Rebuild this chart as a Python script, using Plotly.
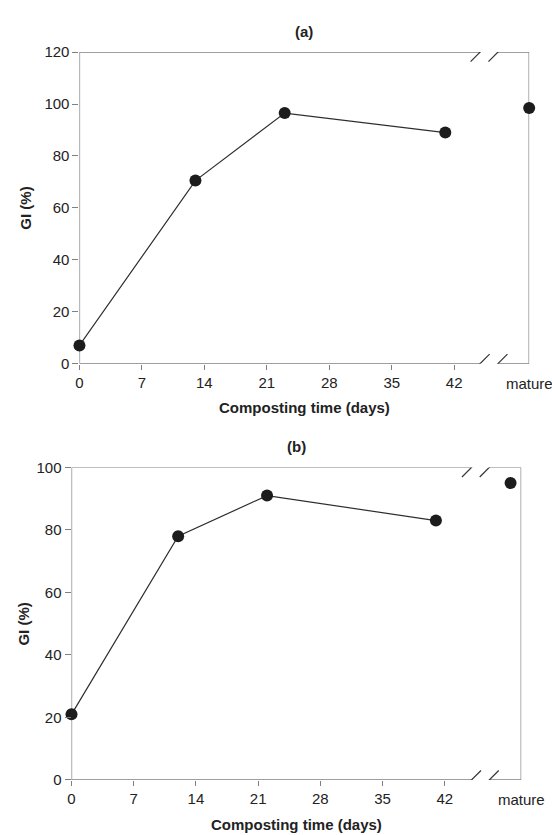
import plotly.graph_objects as go

# ---------------- data ----------------
days_a = [0, 13, 23, 41]
gi_a = [7, 70.5, 96.5, 89]
mature_a = [98.5]

days_b = [0, 12, 22, 41]
gi_b = [21, 78, 91, 83]
mature_b = [95]

x_ticks = [0, 7, 14, 21, 28, 35, 42]
y_ticks_a = [0, 20, 40, 60, 80, 100, 120]
y_ticks_b = [0, 20, 40, 60, 80, 100]

# ---------------- layout constants ----------------
W, H = 552, 835
FONT = "Liberation Sans, Arial, sans-serif"
AX = "#7f7f7f"
TXT = "#222222"

panels = [
    dict(xa="x", ya="y", l=76, r=529, t=44, b=362, xmax=50.4, ymax=120,
         mx=50.4, brk=(44.9, 46.9), title="(a)"),
    dict(xa="x2", ya="y2", l=68, r=521, t=468, b=787, xmax=50.6, ymax=100,
         mx=49.4, brk=(45.0, 47.0), title="(b)"),
]

fig = go.Figure()

series = [(days_a, gi_a, mature_a), (days_b, gi_b, mature_b)]
for p, (dx, dy, mat) in zip(panels, series):
    fig.add_trace(go.Scatter(x=dx, y=dy, mode="lines+markers", xaxis=p["xa"], yaxis=p["ya"],
                             line=dict(color="#2e2e2e", width=1.2),
                             marker=dict(size=12, color="#1c1c1c"),
                             cliponaxis=False, showlegend=False))
    fig.add_trace(go.Scatter(x=[p["mx"]], y=mat, mode="markers", xaxis=p["xa"], yaxis=p["ya"],
                             marker=dict(size=12, color="#1c1c1c"),
                             cliponaxis=False, showlegend=False))

shapes = []
annotations = []
layout_axes = {}
for i, p in enumerate(panels):
    xkey = "xaxis" if i == 0 else "xaxis2"
    ykey = "yaxis" if i == 0 else "yaxis2"
    layout_axes[xkey] = dict(
        domain=[p["l"] / W, p["r"] / W], range=[0, p["xmax"]],
        anchor=p["ya"], showgrid=False, zeroline=False, showline=False,
        tickmode="array", tickvals=x_ticks, ticks="outside", ticklen=5,
        tickcolor=AX, tickwidth=1,
        tickfont=dict(family=FONT, size=15, color=TXT),
    )
    layout_axes[ykey] = dict(
        domain=[1 - p["b"] / H, 1 - p["t"] / H], range=[0, p["ymax"]],
        anchor=p["xa"], showgrid=False, zeroline=False, showline=False,
        tickmode="array", tickvals=y_ticks_a if i == 0 else y_ticks_b,
        ticks="outside", ticklen=6, tickcolor=AX, tickwidth=1,
        tickfont=dict(family=FONT, size=15, color=TXT),
    )
    xr, yr = p["xa"], p["ya"]
    b1, b2 = p["brk"]
    line = dict(color=AX, width=1.3)
    segs = [
        (0, 0, 0, p["ymax"]),
        (0, 0, b1, 0), (b2, 0, p["xmax"], 0),
        (0, p["ymax"], b1, p["ymax"]), (b2, p["ymax"], p["xmax"], p["ymax"]),
        (p["xmax"], 0, p["xmax"], p["ymax"]),
    ]
    for x0, y0, x1, y1 in segs:
        shapes.append(dict(type="line", xref=xr, yref=yr, x0=x0, y0=y0, x1=x1, y1=y1,
                           line=line, layer="below"))
    for yv in (0, p["ymax"]):
        for bc in (b1, b2):
            shapes.append(dict(type="line", xref=xr, yref=yr,
                               xsizemode="pixel", ysizemode="pixel",
                               xanchor=bc, yanchor=yv,
                               x0=-9.5, y0=-9.5, x1=9.5, y1=9.5,
                               line=dict(color="#333333", width=1.2), layer="below"))
    cx = (p["l"] + p["r"]) / 2 / W
    annotations.append(dict(text="<b>" + p["title"] + "</b>", xref="paper", yref="paper",
                            x=cx, y=1 - (p["t"] - 21) / H, showarrow=False,
                            font=dict(family=FONT, size=15, color=TXT),
                            xanchor="center", yanchor="middle"))
    annotations.append(dict(text="<b>Composting time (days)</b>", xref="paper", yref="paper",
                            x=cx, y=1 - (p["b"] + 45) / H, showarrow=False,
                            font=dict(family=FONT, size=15, color=TXT),
                            xanchor="center", yanchor="middle"))
    annotations.append(dict(text="mature", xref="paper", yref="paper",
                            x=p["r"] / W, y=1 - (p["b"] + 20) / H, showarrow=False,
                            font=dict(family=FONT, size=15, color=TXT),
                            xanchor="center", yanchor="middle"))
    annotations.append(dict(text="<b>GI (%)</b>", xref="paper", yref="paper",
                            x=(22 if i == 0 else 20) / W, y=1 - (p["t"] + p["b"]) / 2 / H,
                            showarrow=False, textangle=-90,
                            font=dict(family=FONT, size=15, color=TXT),
                            xanchor="center", yanchor="middle"))

fig.update_layout(
    width=W, height=H, margin=dict(l=0, r=0, t=0, b=0),
    paper_bgcolor="white", plot_bgcolor="white",
    shapes=shapes, annotations=annotations, showlegend=False,
    **layout_axes,
)

fig.write_html("out.html")
